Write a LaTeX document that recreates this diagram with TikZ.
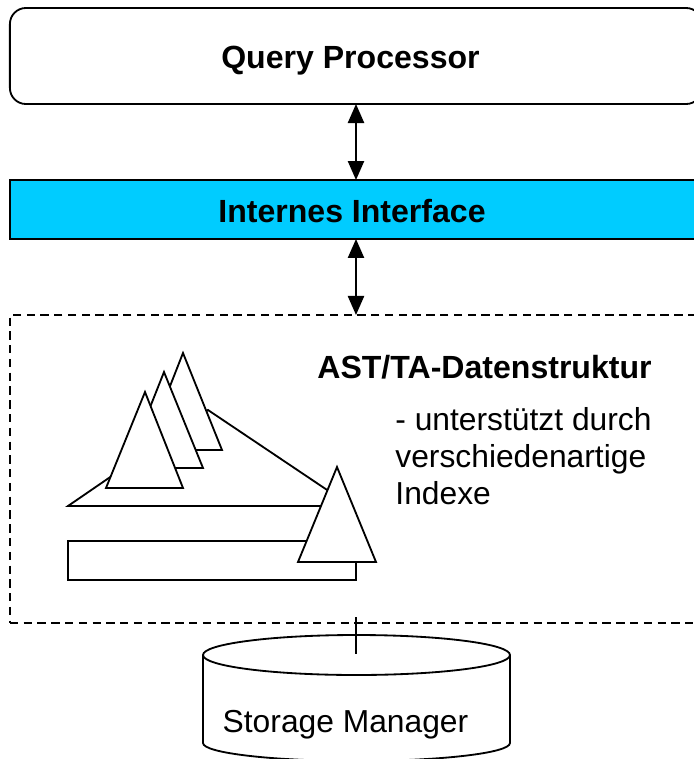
\documentclass[tikz,border=0pt]{standalone}
\usepackage{fontspec}
\setmainfont{Liberation Sans}
\usetikzlibrary{arrows.meta}
\definecolor{ifaceblue}{HTML}{00CCFF}
\tikzset{
  bar/.style={draw,inner sep=0pt,outer sep=0pt,minimum width=17.3cm},
  caption/.style={font=\fontsize{22.8}{26}\selectfont\bfseries,inner sep=0pt,anchor=base},
  plaintext/.style={font=\fontsize{22.6}{26}\selectfont,inner sep=0pt},
  link/.style={{Triangle[length=13.5pt,width=11.5pt]}-{Triangle[length=13.5pt,width=11.5pt]}},
  tree/.style={draw,fill=white},
}
\begin{document}
\begin{tikzpicture}[x=0.025cm,y=-0.025cm,line width=1.3pt]
\useasboundingbox (0,0) rectangle (694,759);

\node[bar,rounded corners=0.4cm,minimum height=2.4cm] (qp) at (356,56) {};
\node[bar,fill=ifaceblue,minimum height=1.475cm] (iface) at (356,209.5) {};
\node[bar,dashed,dash pattern=on 5.9pt off 3.9pt,minimum height=7.7cm] (ast) at (356,469) {};

\node[caption] (qplabel) at (350.5,68) {Query Processor};
\node[caption] (ifacelabel) at (352,222) {Internes Interface};
\node[caption] (astlabel) at (484.5,378) {AST/TA-Datenstruktur};
\node[plaintext,align=left,anchor=north west] (astnote) at (394.5,407) {- unterstützt durch\\verschiedenartige\\Indexe};

\draw[link] (qp.south) -- (iface.north);
\draw[link] (iface.south) -- (ast.north);

% big tree with its subtrees
\draw[tree] (68,506) -- (208,410) -- (351,506) -- cycle;
\draw[tree] (183,353) -- (222,450) -- (145,450) -- cycle;
\draw[tree] (164,372) -- (203,468) -- (126,468) -- cycle;
\draw[tree] (145,392) -- (183,488) -- (106,488) -- cycle;

\draw[tree] (68,541) rectangle (356,580);
\draw[tree] (337,467) -- (376,562) -- (298,562) -- cycle;

% storage drum
\draw[tree] (203,655) -- (203,743) arc[start angle=180,end angle=0,x radius=153.5,y radius=18] -- (510,655);
\draw[tree] (356.5,655) ellipse[x radius=153.5,y radius=20];
\coordinate (tick) at (356,617);
\coordinate (storagetop) at (356,654);
\draw (tick) -- (storagetop);
\node[plaintext,anchor=base] (storagelabel) at (345.5,732) {Storage Manager};
\end{tikzpicture}
\end{document}
